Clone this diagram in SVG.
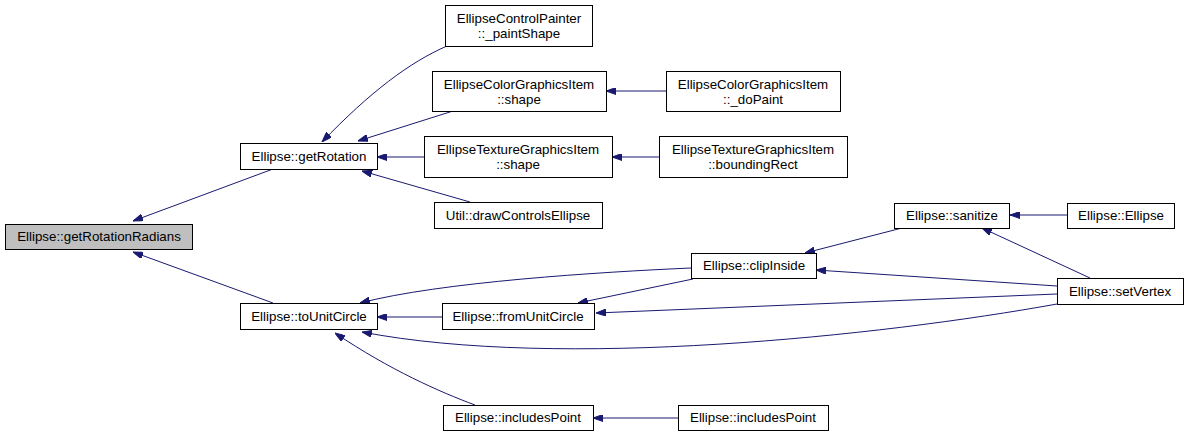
<svg xmlns="http://www.w3.org/2000/svg" width="1189" height="437" viewBox="0 0 1189 437">
<style>
.n rect{fill:#fff;stroke:#000;stroke-width:1}
.n.hl rect{fill:#bfbfbf}
.n text{font-family:"Liberation Sans",Arial,sans-serif;font-size:13.33px;fill:#000;text-anchor:middle}
.e path{fill:none;stroke:#191970;stroke-width:1;marker-end:url(#ah)}
</style>
<defs>
<marker id="ah" viewBox="0 0 10 7" refX="10" refY="3.5" markerWidth="10" markerHeight="7" markerUnits="userSpaceOnUse" orient="auto">
<path d="M0,0 L10,3.5 L0,7 z" fill="#191970" stroke="#191970" stroke-width="1"/>
</marker>
</defs>
<rect width="1189" height="437" fill="#fff"/>
<g id="connectors" class="e">
<path d="M273,169 L133,221"/>
<path d="M273,303 L133,252"/>
<path d="M447,46 C410,62 370,92 322,142"/>
<path d="M453,111 L358,141"/>
<path d="M424,157 L377,157"/>
<path d="M470,202 L362,171"/>
<path d="M666,91 L606,91"/>
<path d="M659,157 L612,157"/>
<path d="M691,268 C600,272 440,282 360,303"/>
<path d="M442,317 L377,317"/>
<path d="M1057,304 C880,336 560,370 362,332"/>
<path d="M475,405 C440,392 390,370 335,333"/>
<path d="M678,418 L593,418"/>
<path d="M693,279 L578,303"/>
<path d="M1057,294 L596,313"/>
<path d="M1057,286 L816,270"/>
<path d="M902,228 L805,253"/>
<path d="M1090,278 L982,228"/>
<path d="M1067,215 L1010,215"/>
</g>
<g id="getRotationRadians" class="n hl"><rect x="5.5" y="224.5" width="187" height="25"/><text x="99" y="241">Ellipse::getRotationRadians</text></g>
<g id="getRotation" class="n"><rect x="240.5" y="143.5" width="137" height="26"/><text x="309" y="161">Ellipse::getRotation</text></g>
<g id="toUnitCircle" class="n"><rect x="240.5" y="303.5" width="137" height="26"/><text x="309" y="321">Ellipse::toUnitCircle</text></g>
<g id="paintShape" class="n"><rect x="445.5" y="5.5" width="147" height="41"/><text x="519" y="23">EllipseControlPainter</text><text x="519" y="38">::_paintShape</text></g>
<g id="colorShape" class="n"><rect x="432.5" y="71.5" width="174" height="40"/><text x="519" y="89">EllipseColorGraphicsItem</text><text x="519" y="104">::shape</text></g>
<g id="colorDoPaint" class="n"><rect x="666.5" y="71.5" width="174" height="40"/><text x="753" y="89">EllipseColorGraphicsItem</text><text x="753" y="104">::_doPaint</text></g>
<g id="textureShape" class="n"><rect x="424.5" y="136.5" width="188" height="41"/><text x="518" y="154">EllipseTextureGraphicsItem</text><text x="518" y="169">::shape</text></g>
<g id="textureBoundingRect" class="n"><rect x="659.5" y="136.5" width="188" height="41"/><text x="753" y="154">EllipseTextureGraphicsItem</text><text x="753" y="169">::boundingRect</text></g>
<g id="drawControlsEllipse" class="n"><rect x="434.5" y="202.5" width="168" height="26"/><text x="518" y="220">Util::drawControlsEllipse</text></g>
<g id="clipInside" class="n"><rect x="691.5" y="253.5" width="125" height="25"/><text x="754" y="270">Ellipse::clipInside</text></g>
<g id="fromUnitCircle" class="n"><rect x="442.5" y="303.5" width="152" height="26"/><text x="518" y="321">Ellipse::fromUnitCircle</text></g>
<g id="includesPoint1" class="n"><rect x="443.5" y="405.5" width="150" height="25"/><text x="518" y="422">Ellipse::includesPoint</text></g>
<g id="includesPoint2" class="n"><rect x="678.5" y="405.5" width="150" height="25"/><text x="753" y="422">Ellipse::includesPoint</text></g>
<g id="sanitize" class="n"><rect x="894.5" y="203.5" width="115" height="25"/><text x="952" y="220">Ellipse::sanitize</text></g>
<g id="ellipseCtor" class="n"><rect x="1067.5" y="203.5" width="107" height="25"/><text x="1121" y="220">Ellipse::Ellipse</text></g>
<g id="setVertex" class="n"><rect x="1057.5" y="278.5" width="126" height="26"/><text x="1120" y="296">Ellipse::setVertex</text></g>
</svg>
